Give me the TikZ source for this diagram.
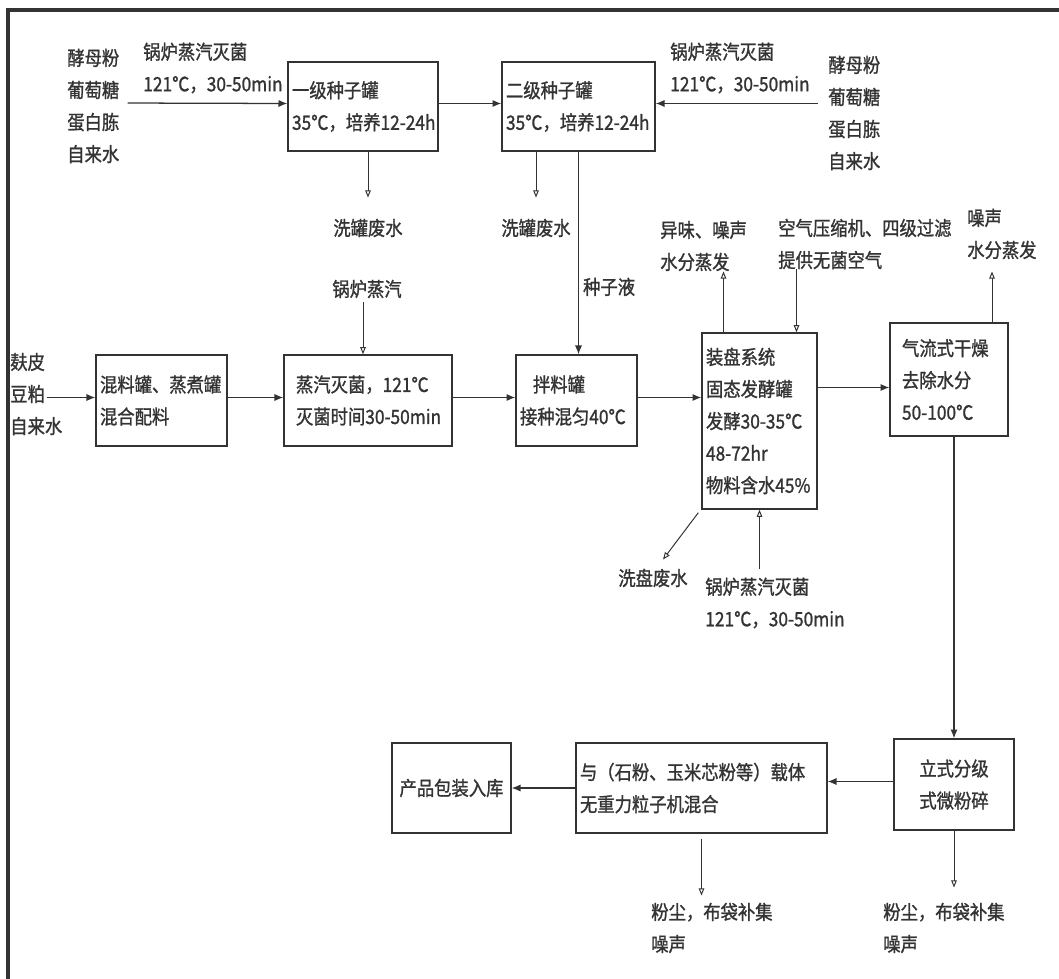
\documentclass[tikz,border=0pt]{standalone}
\usepackage{fontspec}
\setmainfont{Noto Sans CJK SC}[FakeStretch=0.88,FakeBold=1.2]
\usetikzlibrary{arrows.meta}
\definecolor{ink}{HTML}{333333}
\newdimen\dpx \dpx=0.025cm
\newcommand{\flowfont}{\fontsize{14}{22.8}\selectfont}
\exhyphenpenalty=10000
\hyphenpenalty=10000

\begin{document}
\begin{tikzpicture}[x=0.025cm,y=-0.025cm,
  box/.style={draw=ink,line width=1pt,inner xsep=4\dpx,inner ysep=0pt,align=left,font=\flowfont,text=ink},
  note/.style={inner sep=0pt,align=left,anchor=west,font=\flowfont,text=ink},
  flow/.style={draw=ink,line width=0.9pt,-{Latex[length=0.22cm,width=0.18cm]}},
  vent/.style={draw=ink,line width=0.7pt,-{Triangle[open,length=0.18cm,width=0.14cm]}}]
\useasboundingbox (0,0) rectangle (1059,979);
\draw[ink,line width=2.2pt] (8,10) rectangle (1075,995);

\node[box,text width=142\dpx,minimum height=89\dpx] (seed1) at (363,106.5) {一级种子罐\\35℃，培养12-24h};
\node[box,text width=145\dpx,minimum height=89\dpx] (seed2) at (578.5,106.5) {二级种子罐\\35℃，培养12-24h};
\node[note] (inL) at (67,106) {酵母粉\\葡萄糖\\蛋白胨\\自来水};
\node[note] (inR) at (828,113) {酵母粉\\葡萄糖\\蛋白胨\\自来水};
\node[note] (stL) at (143,68) {锅炉蒸汽灭菌\\121℃，30-50min};
\node[note] (stR) at (670,68) {锅炉蒸汽灭菌\\121℃，30-50min};
\node[note,anchor=center] (wash1) at (368,228) {洗罐废水};
\node[note,anchor=center] (wash2) at (536,228) {洗罐废水};
\node[note,anchor=center] (steam) at (367,289) {锅炉蒸汽};

\node[note] (bran) at (10,394) {麸皮\\豆粕\\自来水};
\node[box,text width=123\dpx,minimum height=91\dpx] (premix) at (161.5,400.5) {混料罐、蒸煮罐\\混合配料};
\node[box,inner xsep=12\dpx,text width=144\dpx,minimum height=91\dpx] (steril) at (368,400.5) {蒸汽灭菌，121℃\\灭菌时间30-50min};
\node[box,text width=113\dpx,minimum height=91\dpx] (stir) at (576.5,400.5) {\hspace*{13\dpx}拌料罐\\接种混匀40℃};
\node[box,text width=107\dpx,minimum height=176\dpx] (ferm) at (759.5,421) {装盘系统\\固态发酵罐\\发酵30-35℃\\48-72hr\\物料含水45\%};
\node[box,inner xsep=12\dpx,text width=94\dpx,minimum height=113\dpx] (dry) at (949,379.5) {气流式干燥\\去除水分\\50-100℃};
\node[note] (odor) at (660,246) {异味、噪声\\水分蒸发};
\node[note] (air) at (778,244) {空气压缩机、四级过滤\\提供无菌空气};
\node[note] (vapor) at (967,234) {噪声\\水分蒸发};
\node[note,anchor=center] (washtray) at (653,578) {洗盘废水};
\node[note] (stB) at (705,603) {锅炉蒸汽灭菌\\121℃，30-50min};

\node[box,align=center,text width=112\dpx,minimum height=91\dpx] (mill) at (954,784.5) {立式分级\\式微粉碎};
\node[box,text width=243\dpx,minimum height=90\dpx] (blend) at (701.5,788) {与（石粉、玉米芯粉等）载体\\无重力粒子机混合};
\node[box,align=center,text width=111\dpx,minimum height=90\dpx] (pack) at (451.5,788) {产品包装入库};
\node[note] (dust1) at (651,928) {粉尘，布袋补集\\噪声};
\node[note] (dust2) at (883,928) {粉尘，布袋补集\\噪声};

\coordinate (fo) at ([xshift=-36\dpx]ferm.north);
\coordinate (fa) at ([xshift=37\dpx]ferm.north);
\coordinate (dv) at ([xshift=43\dpx]dry.north);

\draw[flow,shorten <=8\dpx] ([yshift=3\dpx]inL.east -| inL.east) -- ([yshift=3\dpx]seed1.west);
\draw[flow] ([yshift=3\dpx]seed1.east) -- ([yshift=3\dpx]seed2.west);
\draw[flow,shorten <=10\dpx] ([yshift=3\dpx]seed2.east -| inR.west) -- ([yshift=3\dpx]seed2.east);
\draw[vent,shorten >=21\dpx] (wash1.north |- seed1.south) -- (wash1.north);
\draw[vent,shorten >=21\dpx] (wash2.north |- seed2.south) -- (wash2.north);
\draw[flow] (seed2.south) -- (seed2.south |- stir.north) node[note,pos=0.667,xshift=4\dpx] (liquor) {种子液};

\draw[flow] ([xshift=-16\dpx,yshift=3\dpx]bran.east |- premix.west) -- ([yshift=3\dpx]premix.west);
\draw[flow] ([yshift=3\dpx]premix.east) -- ([yshift=3\dpx]steril.west);
\draw[vent,shorten <=4\dpx] ([xshift=-4\dpx]steam.south) -- ([xshift=-4\dpx]steam.south |- steril.north);
\draw[flow] ([yshift=3\dpx]steril.east) -- ([yshift=3\dpx]stir.west);
\draw[flow] ([yshift=3\dpx]stir.east) -- ([yshift=3\dpx]stir.east -| ferm.west);
\draw[vent] (fo) -- (fo |- odor.south);
\draw[vent] (fa |- air.south) -- (fa);
\draw[vent,shorten >=12\dpx] (dv) -- (dv |- vapor.south);
\draw[vent] ([shift={(-3,3)}]ferm.south west) -- ([shift={(10,-9)}]washtray.north);
\draw[vent,shorten <=8\dpx] (ferm.south |- stB.north) -- (ferm.south);
\draw[flow] ([yshift=-8\dpx]dry.west -| ferm.east) -- ([yshift=-8\dpx]dry.west);

\draw[flow] (dry.south -| mill.north) -- (mill.north);
\draw[flow] ([yshift=3\dpx]mill.west) -- ([yshift=3\dpx]mill.west -| blend.east);
\draw[flow] (blend.west) -- (blend.west -| pack.east);
\draw[vent,shorten <=5\dpx,shorten >=7\dpx] (blend.south) -- (blend.south |- dust1.north);
\draw[vent,shorten >=15\dpx] (mill.south) -- (mill.south |- dust2.north);
\end{tikzpicture}
\end{document}
